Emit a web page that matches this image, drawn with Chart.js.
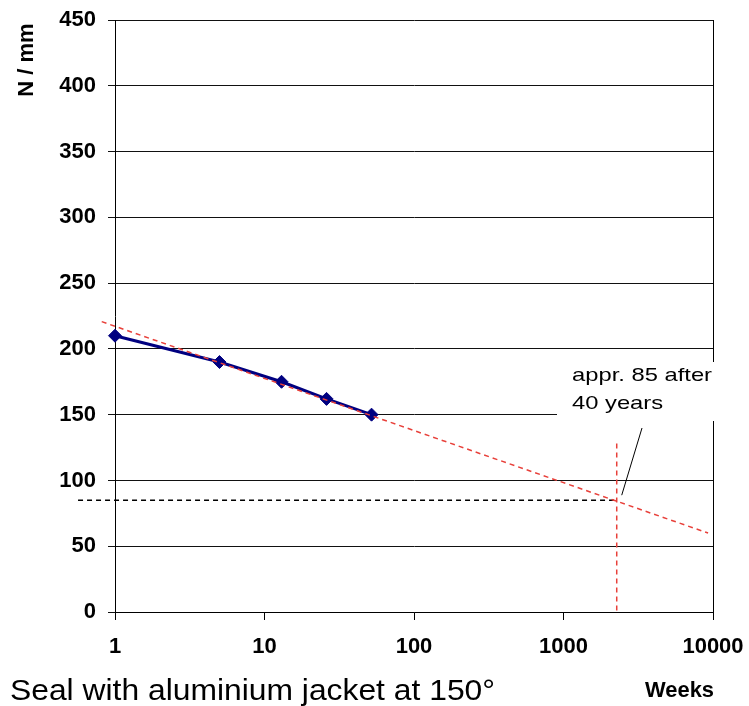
<!DOCTYPE html>
<html>
<head>
<meta charset="utf-8">
<script src="https://cdn.jsdelivr.net/npm/chart.js@4.4.1/dist/chart.umd.min.js"></script>
<style>
    body { margin: 0; background: #fff; }
</style>
</head>
<body>
<canvas id="sealChart" width="749" height="706"></canvas>
<script>
// measured values (weeks vs N/mm)
const weeks = [1, 5, 13, 26, 52];
const force = [210, 190, 175, 162, 150];

// extrapolated trend (red dashed)
const trendWeeks = [0.815, 9270];
const trendForce = [220.7, 60];

// 40 year marker
const markWeeks = [2270, 2270];
const markForce = [128, 0];
const refWeeks = [0.566, 2270];
const refForce = [85, 85];

// axis ticks
const xTicks = [1, 10, 100, 1000, 10000];
const yMin = 0, yMax = 450, yStep = 50;

const yTitle = 'N / mm';
const xTitle = 'Weeks';
const caption = 'Seal with aluminium jacket at 150°';
const calloutLines = ['appr. 85 after', '40 years'];

const FONT = '"Liberation Sans", Arial, sans-serif';
Chart.defaults.font.family = FONT;
Chart.defaults.color = '#000';

function toPoints(xs, ys) {
    return xs.map((x, i) => ({ x: x, y: ys[i] }));
}

// draw text squeezed/stretched to a given width
function fitText(ctx, text, left, baseline, width) {
    const w = ctx.measureText(text).width;
    ctx.save();
    ctx.translate(left, baseline);
    ctx.scale(width / w, 1);
    ctx.textAlign = 'left';
    ctx.textBaseline = 'alphabetic';
    ctx.fillText(text, 0, 0);
    ctx.restore();
}

const extras = {
    id: 'extras',
    afterDraw(chart) {
        const ctx = chart.ctx;
        const area = chart.chartArea;
        const x = chart.scales.x;
        ctx.save();

        // right border
        ctx.strokeStyle = '#000';
        ctx.lineWidth = 1;
        ctx.beginPath();
        ctx.moveTo(Math.round(area.right) + 0.5, area.top);
        ctx.lineTo(Math.round(area.right) + 0.5, area.bottom);
        ctx.stroke();

        // callout box + text
        ctx.fillStyle = '#fff';
        ctx.fillRect(557, 362, 168, 59);
        ctx.fillStyle = '#000';
        ctx.font = '19px ' + FONT;
        const w1 = ctx.measureText(calloutLines[0]).width;
        const sx = 140 / w1;
        fitText(ctx, calloutLines[0], 572, 381, 140);
        fitText(ctx, calloutLines[1], 572, 409, ctx.measureText(calloutLines[1]).width * sx);

        // leader line
        const px = x.getPixelForValue(markWeeks[0]);
        const py = chart.scales.y.getPixelForValue(refForce[0]);
        ctx.beginPath();
        ctx.moveTo(642, 428);
        ctx.lineTo(px + 5, py - 5);
        ctx.stroke();

        // y title
        ctx.font = 'bold 22px ' + FONT;
        ctx.save();
        ctx.translate(33, 60);
        ctx.rotate(-Math.PI / 2);
        ctx.textAlign = 'center';
        ctx.textBaseline = 'alphabetic';
        ctx.fillText(yTitle, 0, 0);
        ctx.restore();

        // x title and caption
        fitText(ctx, xTitle, 645, 697, 69);
        ctx.font = '30px ' + FONT;
        fitText(ctx, caption, 10, 700, 485);

        ctx.restore();
    }
};

const sealChart = new Chart(document.getElementById('sealChart'), {
    type: 'scatter',
    data: {
        datasets: [{
            label: 'trend',
            data: toPoints(trendWeeks, trendForce),
            showLine: true,
            borderColor: '#e8403a',
            borderWidth: 1.5,
            borderDash: [5, 4],
            pointRadius: 0,
            clip: false,
            order: 0
        }, {
            label: 'measured',
            data: toPoints(weeks, force),
            showLine: true,
            borderColor: '#000080',
            backgroundColor: '#000080',
            borderWidth: 3,
            pointStyle: 'rectRot',
            pointRadius: 6.5,
            pointBorderWidth: 1,
            clip: false,
            order: 1
        }, {
            label: '40 years',
            data: toPoints(markWeeks, markForce),
            showLine: true,
            borderColor: '#e8403a',
            borderWidth: 1.5,
            borderDash: [5, 4],
            pointRadius: 0,
            clip: false,
            order: 2
        }, {
            label: '85',
            data: toPoints(refWeeks, refForce),
            showLine: true,
            borderColor: '#000',
            borderWidth: 1.5,
            borderDash: [5, 4],
            pointRadius: 0,
            clip: false,
            order: 3
        }]
    },
    options: {
        responsive: false,
        animation: false,
        devicePixelRatio: 1,
        layout: { padding: { left: 0, top: 20, right: 36, bottom: 0 } },
        plugins: {
            legend: { display: false },
            tooltip: { enabled: false }
        },
        scales: {
            x: {
                type: 'logarithmic',
                min: 1,
                max: 10000,
                afterBuildTicks: (scale) => {
                    scale.ticks = xTicks.map(v => ({ value: v }));
                },
                afterFit: (scale) => {
                    scale.height = 94;
                    scale.paddingLeft = 0;
                    scale.paddingRight = 0;
                },
                ticks: {
                    autoSkip: false,
                    maxRotation: 0,
                    padding: 14,
                    font: { size: 22, weight: 'bold' },
                    callback: (v) => String(v)
                },
                grid: {
                    drawOnChartArea: false,
                    drawTicks: true,
                    tickLength: 8,
                    color: '#000'
                },
                border: { color: '#000', width: 1 }
            },
            y: {
                min: yMin,
                max: yMax,
                afterFit: (scale) => {
                    scale.width = 115;
                    scale.paddingTop = 0;
                    scale.paddingBottom = 0;
                },
                ticks: {
                    stepSize: yStep,
                    padding: 12,
                    font: { size: 22, weight: 'bold' }
                },
                grid: {
                    color: '#111',
                    lineWidth: 1,
                    tickLength: 7
                },
                border: { color: '#000', width: 1 }
            }
        }
    },
    plugins: [extras]
});
</script>
</body>
</html>
